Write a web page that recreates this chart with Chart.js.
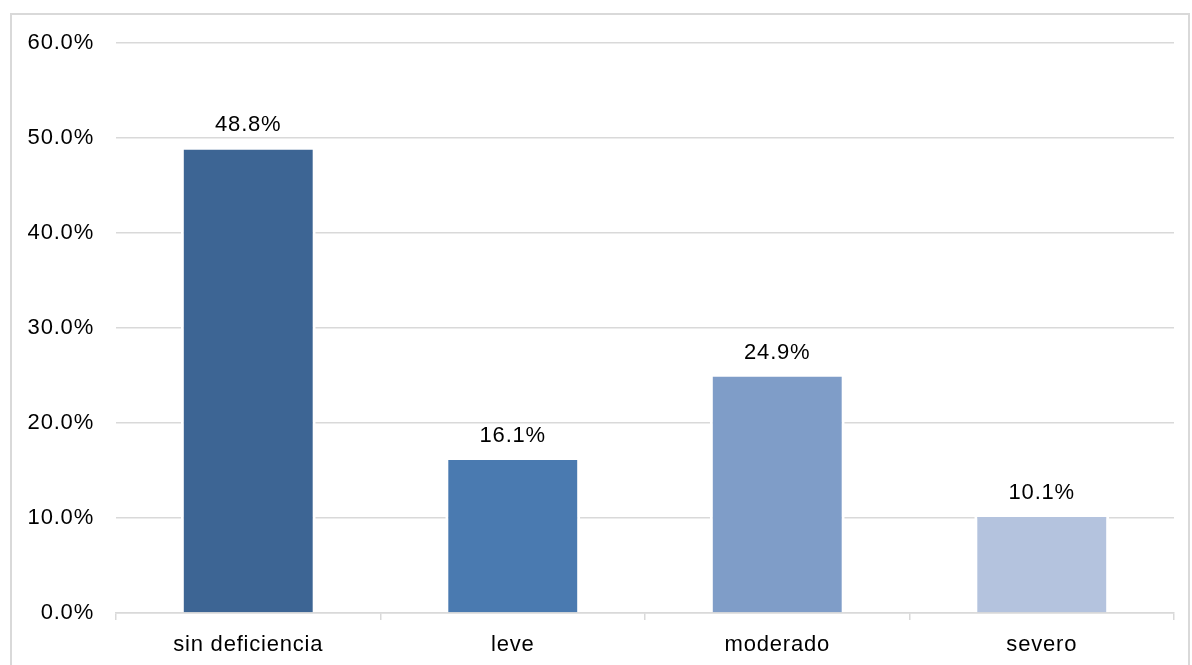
<!DOCTYPE html>
<html>
<head>
<meta charset="utf-8">
<script src="https://cdn.jsdelivr.net/npm/chart.js@4.4.0/dist/chart.umd.min.js"></script>
<style>
    html, body { margin: 0; padding: 0; background: #fff; overflow: hidden; }
    .frame {
        position: absolute; left: 10px; top: 13px;
        width: 1180px; height: 700px;
        border: 2px solid #d9d9d9; box-sizing: border-box;
    }
    .chart-box { position: absolute; left: 0; top: 0; width: 1192px; height: 665px; }
</style>
</head>
<body>
<div class="frame"></div>
<div class="chart-box"><canvas id="barChart"></canvas></div>
<script>
// Categories and percentages
const categories = ['sin deficiencia', 'leve', 'moderado', 'severo'];
const percentages = [48.8, 16.1, 24.9, 10.1];
const barColors = ['#3d6594', '#4a7ab0', '#7f9dc8', '#b4c3de'];
const yTicks = [0, 10, 20, 30, 40, 50, 60];

const fontFamily = '"Liberation Sans", Arial, sans-serif';
const fontSize = 22;

// Slightly wider text spacing for all labels
const textSpacing = {
    id: 'textSpacing',
    beforeDraw(chart) {
        chart.ctx.letterSpacing = '0.8px';
    }
};

// Writes the percentage above each bar
const valueLabels = {
    id: 'valueLabels',
    afterDatasetsDraw(chart) {
        const ctx = chart.ctx;
        const meta = chart.getDatasetMeta(0);
        ctx.save();
        ctx.font = fontSize + 'px ' + fontFamily;
        ctx.fillStyle = '#000';
        ctx.textAlign = 'center';
        ctx.textBaseline = 'bottom';
        meta.data.forEach((bar, i) => {
            ctx.fillText(percentages[i].toFixed(1) + '%', bar.x, bar.y - 13);
        });
        ctx.restore();
    }
};

new Chart(document.getElementById('barChart'), {
    type: 'bar',
    data: {
        labels: categories,
        datasets: [{
            data: percentages,
            backgroundColor: barColors,
            borderColor: '#ffffff',
            borderWidth: { top: 0, bottom: 0, left: 3, right: 3 },
            categoryPercentage: 1,
            barPercentage: 0.51
        }]
    },
    options: {
        responsive: true,
        maintainAspectRatio: false,
        animation: false,
        layout: { padding: { top: 43, right: 18, bottom: 0, left: 0 } },
        plugins: {
            legend: { display: false },
            tooltip: { enabled: false }
        },
        scales: {
            x: {
                offset: true,
                grid: {
                    offset: true,
                    drawOnChartArea: false,
                    color: '#d9d9d9',
                    lineWidth: 1.5,
                    tickLength: 7
                },
                border: { display: true, color: '#d9d9d9', width: 1.5 },
                ticks: {
                    padding: 12,
                    color: '#000',
                    font: { family: fontFamily, size: fontSize }
                },
                afterFit: (scale) => { scale.height = 52; }
            },
            y: {
                min: 0,
                max: 60,
                afterBuildTicks: (scale) => {
                    scale.ticks = yTicks.map(v => ({ value: v }));
                },
                grid: { color: '#d9d9d9', lineWidth: 1.5, drawTicks: false },
                border: { display: false },
                ticks: {
                    padding: 22,
                    color: '#000',
                    font: { family: fontFamily, size: fontSize },
                    callback: (v) => v.toFixed(1) + '%'
                },
                afterFit: (scale) => { scale.width = 116; }
            }
        }
    },
    plugins: [textSpacing, valueLabels]
});
</script>
</body>
</html>
